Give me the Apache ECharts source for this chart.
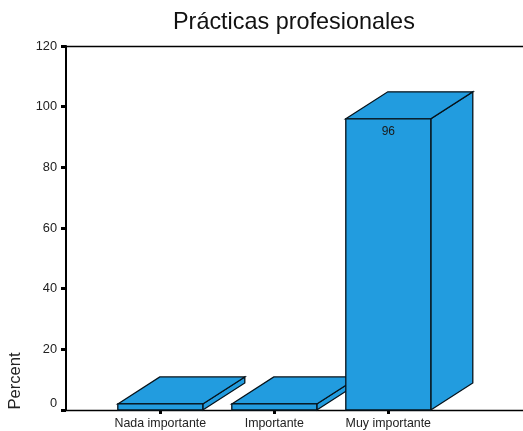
<!DOCTYPE html>
<html><head><meta charset="utf-8">
<style>html,body{margin:0;padding:0;background:#fff}#c{width:523px;height:431px}</style>
<script src="https://cdn.jsdelivr.net/npm/echarts@6/dist/echarts.min.js"></script>
</head><body><div id="c"></div>
<script>
const categories = ["Nada importante", "Importante", "Muy importante"];
const percentValues = [2, 2, 96];
const shownLabels = [null, null, "96"];
const yTicks = [0, 20, 40, 60, 80, 100, 120];
const chartTitle = "Prácticas profesionales";
const yName = "Percent";

const chart = echarts.init(document.getElementById('c'), null, {renderer: 'canvas'});
const FONT = '"Liberation Sans", Arial, sans-serif';
const BAR = '#229cdf', EDGE = '#06121a';
const DX = 42, DY = -27, HALF = 0.3728;
const xMin = -94.3 / 114, xMax = 362.7 / 114;
const xIdx = categories.map((_, i) => i);

function renderBar(params, api) {
  const i = api.value(0), v = api.value(1);
  const base = api.coord([i - HALF, 0]);
  const top = api.coord([i + HALF, v]);
  const [l, b] = base, [r, t] = top;
  const style = {fill: BAR, stroke: EDGE, lineWidth: 1.3, lineJoin: 'miter'};
  const poly = pts => ({type: 'polygon', shape: {points: pts}, style});
  const children = [
    poly([[r, b], [r + DX, b + DY], [r + DX, t + DY], [r, t]]),
    poly([[l, t], [l + DX, t + DY], [r + DX, t + DY], [r, t]]),
    poly([[l, b], [r, b], [r, t], [l, t]])
  ];
  const lab = shownLabels[params.dataIndex];
  if (lab) children.push({type: 'text', style: {
    text: lab, x: (l + r) / 2, y: t + 13, align: 'center', verticalAlign: 'middle',
    font: '12px ' + FONT, fill: '#1a1a1a'}});
  return {type: 'group', children};
}

chart.setOption({
  animation: false,
  backgroundColor: '#fff',
  title: {text: chartTitle, left: 168, top: 6,
    textStyle: {fontFamily: FONT, fontSize: 23.4, fontWeight: 'normal', color: '#111'}},
  grid: {left: 66, right: 0, top: 46, bottom: 21, containLabel: false},
  xAxis: [{
    type: 'value', min: xMin, max: xMax, position: 'bottom', splitLine: {show: false},
    axisLine: {show: true, onZero: false, lineStyle: {color: '#000', width: 1.4}},
    axisTick: {show: true, customValues: xIdx, length: 4, lineStyle: {color: '#000', width: 3}},
    axisLabel: {show: true, customValues: xIdx, margin: 8, fontFamily: FONT, fontSize: 12.4, color: '#222',
      formatter: v => categories[Math.round(v)]}
  }, {
    type: 'value', min: xMin, max: xMax, position: 'top', splitLine: {show: false},
    axisLine: {show: true, onZero: false, lineStyle: {color: '#000', width: 1.4}},
    axisTick: {show: false}, axisLabel: {show: false}
  }],
  yAxis: {
    type: 'value', min: 0, max: 120, interval: 20, splitLine: {show: false},
    axisLine: {show: true, onZero: false, lineStyle: {color: '#000', width: 2}},
    axisTick: {show: true, length: 5, lineStyle: {color: '#000', width: 3}},
    axisLabel: {show: true, margin: 9, padding: [2, 0, 0, 0], fontFamily: FONT, fontSize: 12.8, color: '#222',
      verticalAlignMinLabel: 'bottom', customValues: yTicks}
  },
  graphic: [{type: 'text', rotation: Math.PI / 2, x: 15, y: 381,
    style: {text: yName, font: '16.6px ' + FONT, fill: '#222', align: 'center', verticalAlign: 'middle'}}],
  series: [{
    type: 'custom', renderItem: renderBar, clip: false,
    encode: {x: 0, y: 1},
    data: percentValues.map((v, i) => [i, v])
  }]
});
</script></body></html>
